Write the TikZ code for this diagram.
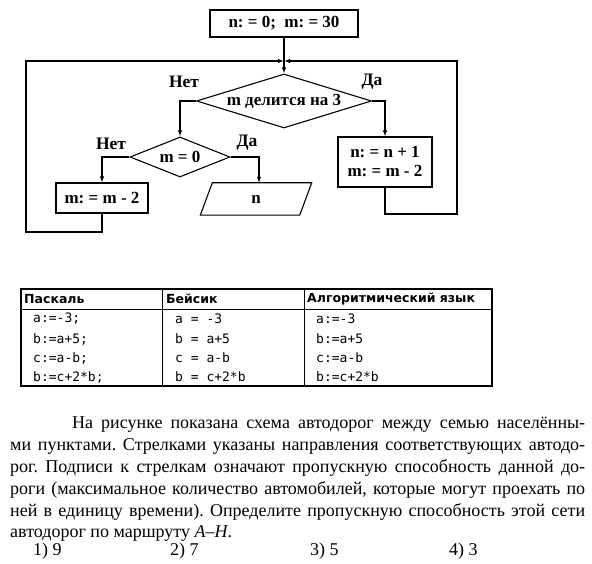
\documentclass[tikz,border=0pt]{standalone}
\usepackage{fontspec}
\setmainfont{Liberation Serif}
\newfontfamily\headfont{DejaVu Sans}
\newfontfamily\codefont{DejaVu Sans Mono}
\usetikzlibrary{positioning,arrows.meta,shapes.geometric}
\hyphenpenalty=10000
\frenchspacing
\tikzset{
    procbox/.style={draw,line width=1.1pt,inner sep=0pt,align=center,
        font=\bfseries\fontsize{17}{19}\selectfont},
    decision/.style={draw,diamond,line width=1.1pt,inner sep=0pt,align=center,
        font=\bfseries\fontsize{17}{19}\selectfont},
    iotext/.style={inner sep=0pt,font=\bfseries\fontsize{17}{19}\selectfont},
    branch/.style={font=\bfseries\fontsize{17.5}{19}\selectfont},
    flowline/.style={line width=1.1pt},
    flowarrow/.style={flowline,-{Latex[length=6pt,width=4.5pt]}},
    headcell/.style={anchor=west,inner sep=0pt,
        font=\headfont\bfseries\fontsize{12.5}{14}\selectfont},
    codecell/.style={anchor=west,inner sep=0pt,
        font=\codefont\fontsize{13}{14}\selectfont},
    answer/.style={anchor=west,inner sep=0pt,font=\fontsize{18}{20}\selectfont}
}
\begin{document}
\begin{tikzpicture}[x=1pt,y=-1pt]
    \useasboundingbox (0,0) rectangle (592,564);
    % flowchart
    \node[procbox,minimum width=148pt,minimum height=27pt] (init) at (284,23.5) {n: = 0;\ \ m: = 30};
    \node[decision,aspect=3.24,minimum width=175pt,minimum height=54pt] (div3) at (284,101) {m делится на 3};
    \node[decision,aspect=2.5,minimum width=100pt,minimum height=40pt] (iszero) at (180,157) {m = 0};
    \node[procbox,minimum width=92pt,minimum height=30pt] (decm) at (102,198) {m: = m - 2};
    \node[iotext,minimum width=99pt,minimum height=32pt] (outn) at (256,199) {n};
    \draw[flowline] ([xshift=-6pt]outn.south west) -- ([xshift=6pt]outn.north west)
        -- ([xshift=6pt]outn.north east) -- ([xshift=-6pt]outn.south east) -- cycle;
    \node[procbox,minimum width=94pt,minimum height=50pt] (incn) at (385,162) {n: = n + 1\\m: = m - 2};
    \node[branch] (no1) at (184,82) {Нет};
    \node[branch] (yes1) at (372,82) {Да};
    \node[branch] (no2) at (111,144) {Нет};
    \node[branch] (yes2) at (247,143) {Да};
    \coordinate (join) at (284,61);
    \coordinate (lb) at (26,232);
    \coordinate (lt) at (26,61);
    \coordinate (rb) at (457,214);
    \coordinate (rt) at (457,61);
    \draw[flowline] (init.south) -- (join);
    \draw[flowarrow] (join) -- (div3.north);
    \draw[flowarrow] (div3.west) -| (iszero.north);
    \draw[flowarrow] (div3.east) -| (incn.north);
    \draw[flowarrow] (iszero.west) -| (decm.north);
    \draw[flowarrow] (iszero.east) -| ([xshift=3pt]outn.north);
    \draw[flowarrow] (decm.south) |- (lb) -- (lt) -- (join);
    \draw[flowarrow] (incn.south) |- (rb) -- (rt) -- (join);
    % table
    \draw[line width=1.2pt] (21,289) rectangle (492,386);
    \draw[line width=1pt] (21,309) -- (492,309);
    \draw[line width=1pt] (162,289) -- (162,386);
    \draw[line width=1pt] (304,289) -- (304,386);
    \node[headcell] (hpas) at (24,299) {Паскаль};
    \node[headcell] (hbas) at (166,299) {Бейсик};
    \node[headcell] (halg) at (307,299) {Алгоритмический язык};
    \foreach \y/\pas/\bas/\alg in {319/a:=-3;/a = -3/a:=-3,
        339/b:=a+5;/b = a+5/b:=a+5,
        358/c:=a-b;/c = a-b/c:=a-b,
        377/b:=c+2*b;/b = c+2*b/b:=c+2*b} {
        \node[codecell] at (33,\y) {\pas};
        \node[codecell] at (175,\y) {\bas};
        \node[codecell] at (316,\y) {\alg};
    }
    % task text
    \node[anchor=north west,text width=575pt,align=justify,inner sep=0pt,
        font=\fontsize{18}{21.8}\selectfont] (task) at (10,417)
        {\hspace*{62pt}На рисунке показана схема автодорог между семью населённы-\linebreak
        ми пунктами. Стрелками указаны направления соответствующих автодо-\linebreak
        рог. Подписи к стрелкам означают пропускную способность данной до-\linebreak
        роги (максимальное количество автомобилей, которые могут проехать по\linebreak
        ней в единицу времени). Определите пропускную способность этой сети\linebreak
        автодорог по маршруту \textit{A}–\textit{H}.};
    \foreach \x/\n in {33/1) 9,170/2) 7,310/3) 5,449/4) 3} {
        \node[answer] at (\x,551) {\n};
    }
\end{tikzpicture}
\end{document}
